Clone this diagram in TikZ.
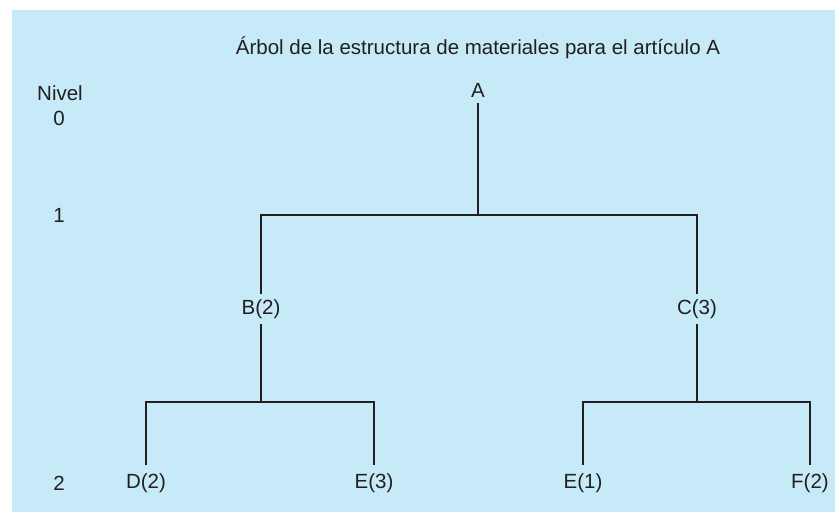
\documentclass[tikz,border=0pt]{standalone}
\usepackage{fontspec}
\setmainfont{Liberation Sans}
\usetikzlibrary{positioning}
\definecolor{bgblue}{RGB}{199,234,249}
\definecolor{inkgray}{RGB}{35,31,32}

\begin{document}
\begin{tikzpicture}[
  x=1pt, y=-1pt,
  part/.style={text=inkgray, font=\fontsize{20.5}{24}\selectfont, inner sep=0pt, minimum height=26pt},
  mid/.style={part, outer ysep=2pt},
  leaf/.style={part, outer ysep=5pt},
  lvl/.style={text=inkgray, font=\fontsize{20.5}{24}\selectfont, inner sep=0pt},
  bar/.style={draw=inkgray, line width=2.6pt}
]
\useasboundingbox (0,0) rectangle (835,512);
\fill[bgblue] (12,10) rectangle (835,512);

% Title and levels
\node[lvl] (title) at (478,48) {Árbol de la estructura de materiales para el artículo A};
\node[lvl] (nivel) at (60,93) {Nivel};
\node[lvl] (lv0) at (59,118) {0};
\node[lvl] (lv1) at (59,215) {1};
\node[lvl] (lv2) at (59,483) {2};

% Items
\node[part] (A) at (478,90) {A};
\node[mid] (B) at (261,309) {B(2)};
\node[mid] (C) at (697,309) {C(3)};
\node[leaf] (D) at (146,483) {D(2)};
\node[leaf] (E3) at (374,483) {E(3)};
\node[leaf] (E1) at (583,483) {E(1)};
\node[leaf] (F) at (810,483) {F(2)};

% Junctions
\coordinate (jA) at (478,215);
\coordinate (jB) at (261,402);
\coordinate (jC) at (697,402);

\draw[bar] (A) -- (jA);
\draw[bar] (B) |- (jA) -| (C);
\draw[bar] (B) -- (jB);
\draw[bar] (C) -- (jC);
\draw[bar] (D) |- (jB) -| (E3);
\draw[bar] (E1) |- (jC) -| (F);

\end{tikzpicture}
\end{document}
